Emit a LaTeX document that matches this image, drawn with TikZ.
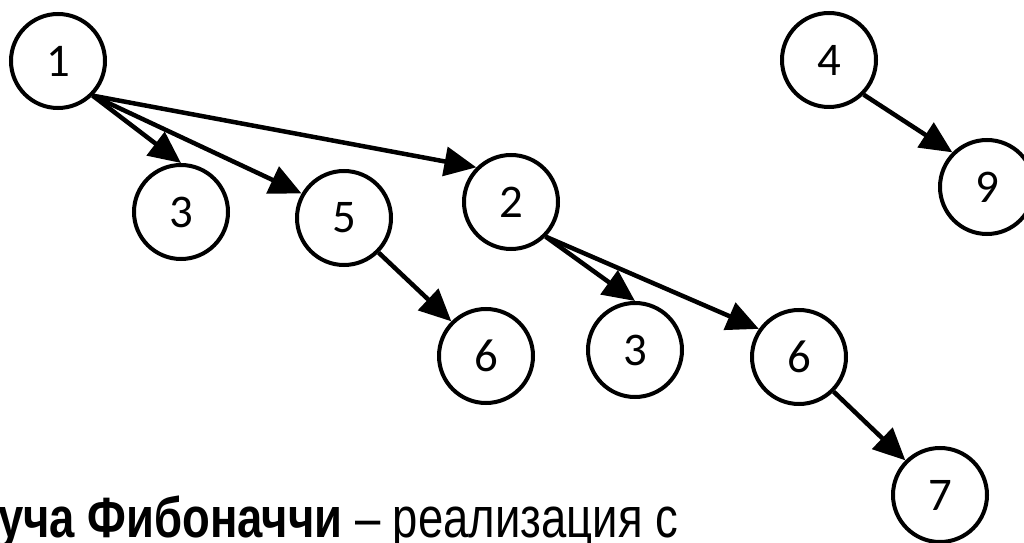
\documentclass[tikz,border=0pt]{standalone}
\usepackage{fontspec}
\setmainfont{Carlito}
\newfontfamily\captfont[FakeStretch=0.8]{Liberation Sans}
\usetikzlibrary{arrows.meta}
\tikzset{
  vert/.style={circle, draw=black, line width=4bp, minimum size=94bp, inner sep=0pt,
    font=\fontsize{47}{50}\selectfont},
  edge/.style={line width=4.5bp, -{Triangle[length=32bp, width=29bp]}},
}
\begin{document}
\begin{tikzpicture}[x=1bp, y=-1bp]
\useasboundingbox (0,0) rectangle (1024,543);
\node[vert] (n1) at (58,61) {1};
\node[vert] (n3a) at (181,212) {3};
\node[vert] (n5) at (344,218) {5};
\node[vert] (n2) at (511,202) {2};
\node[vert] (n6a) at (486,356) {6};
\node[vert] (n3b) at (635,350) {3};
\node[vert] (n6b) at (799,357) {6};
\node[vert] (n7) at (940,495) {7};
\node[vert] (n4) at (829,60) {4};
\node[vert] (n9) at (987,187) {9};
\draw[edge] (n1.-45) -- (n3a.north);
\draw[edge] (n1.-45) -- (n5.150);
\draw[edge] (n1.-45) -- (n2.135);
\draw[edge] (n5.-45) -- (n6a.135);
\draw[edge] (n2.-45) -- (n3b.north);
\draw[edge] (n2.-45) -- (n6b.145);
\draw[edge] (n6b.-45) -- (n7.135);
\draw[edge] (n4.-45) -- (n9.135);
\node[anchor=base west, inner sep=0pt, font=\captfont\fontsize{57}{60}\selectfont] (cap) at (-2,537) {\textbf{уча Фибоначчи} – реализация с};
\end{tikzpicture}
\end{document}
